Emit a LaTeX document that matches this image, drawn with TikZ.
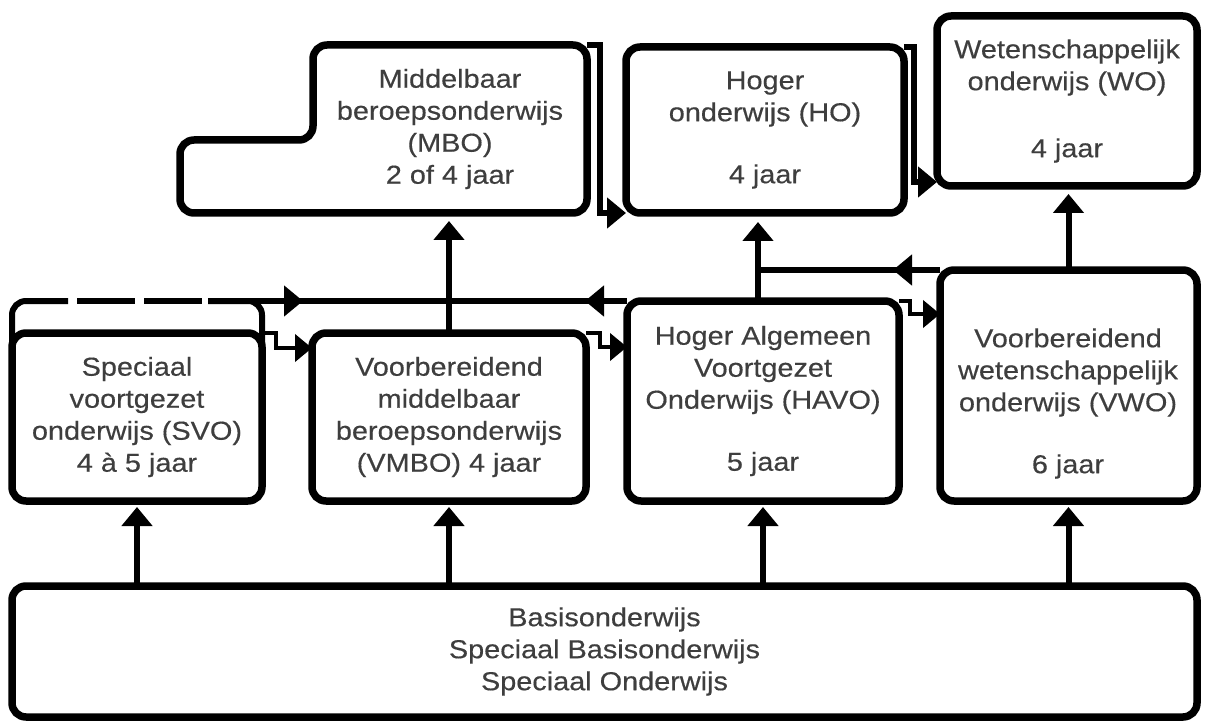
\documentclass[tikz,border=0pt]{standalone}
\usepackage{fontspec}
\setmainfont{Liberation Sans}[FakeStretch=1.11,FakeBold=0.4]
\usepackage{tikz}
\usetikzlibrary{arrows.meta,positioning,decorations.markings}
\definecolor{txtgray}{RGB}{62,62,62}

\begin{document}
\begin{tikzpicture}[x=1pt,y=-1pt,
	conn/.style={line width=6pt},
	arr/.style={line width=6pt,-{Triangle[length=19pt,width=30pt]}},
	steparr/.style={line width=4.5pt,-{Triangle[length=17pt,width=27pt]}}]
	\useasboundingbox (0,0) rectangle (1205,722);

	\begin{scope}[every node/.style={rectangle,draw,line width=7.5pt,rounded corners=14pt,inner sep=0pt,outer sep=0pt,align=center,text=txtgray,font=\fontsize{26}{32}\selectfont}]
		\node[minimum width=1185pt,minimum height=131pt] (Basis) at (604.5,651.5) {Basisonderwijs\\Speciaal Basisonderwijs\\Speciaal Onderwijs};
		\node[minimum width=250pt,minimum height=168pt] (SVO) at (137,417) {Speciaal\\voortgezet\\onderwijs (SVO)\\4 à 5 jaar};
		\node[minimum width=274pt,minimum height=168pt] (VMBO) at (449,417) {Voorbereidend\\middelbaar\\beroepsonderwijs\\(VMBO) 4 jaar};
		\node[minimum width=272pt,minimum height=200pt] (HAVO) at (763,401) {Hoger Algemeen\\Voortgezet\\Onderwijs (HAVO)\\[30pt]5 jaar};
		\node[minimum width=257pt,minimum height=231pt] (VWO) at (1068.5,385.5) {};
		\node[draw=none] (VWOtxt) at (1068,403.5) {Voorbereidend\\wetenschappelijk\\onderwijs (VWO)\\[30pt]6 jaar};
		\node[draw=none,minimum width=274pt,minimum height=168pt] (MBO) at (450,129) {Middelbaar\\beroepsonderwijs\\(MBO)\\2 of 4 jaar};
		\node[minimum width=278pt,minimum height=166pt] (HO) at (765,130) {Hoger\\onderwijs (HO)\\[30pt]4 jaar};
		\node[minimum width=260pt,minimum height=170pt] (WO) at (1067,101) {Wetenschappelijk\\onderwijs (WO)\\[35pt]4 jaar};
	\end{scope}

	% MBO outline
	\draw[line width=7.5pt,rounded corners=14pt] (MBO.south) -- (MBO.south east) -- (MBO.north east) -- (MBO.north west) -- (MBO.west |- 0,140) -- (180,140) -- (180,213) -- cycle;

	\coordinate (J) at (758,270);
	\coordinate (D1) at (68,301);
	\coordinate (D2) at (208,301);

	\begin{scope}
	\draw[arr,shorten >=6pt] (Basis.north -| SVO.south) -- (SVO.south);
	\draw[arr,shorten >=6pt] (Basis.north -| VMBO.south) -- (VMBO.south);
	\draw[arr,shorten >=6pt] (Basis.north -| HAVO.south) -- (HAVO.south);
	\draw[arr,shorten >=6pt] (Basis.north -| VWO.south) -- (VWO.south);
	\draw[arr,shorten >=8pt] (VMBO.north) -- (VMBO.north |- MBO.south);
	\draw[arr,shorten >=9pt] (HAVO.north -| J) -- (HO.south -| J);
	\draw[arr,shorten >=8pt] (VWO.north) -- (WO.south -| VWO.north);
	\draw[conn,postaction={decorate},decoration={markings,mark=at position 47pt with {\arrow{Triangle[length=19pt,width=30pt]}}}] (VWO.north west) -- (J);

	% dashed top over SVO
	\draw[conn,rounded corners=14pt] (SVO.west) |- (D1);
	\draw[conn,dash pattern=on 58pt off 9pt,dash phase=58pt] (D1) -- (D2);
	\draw[conn,rounded corners=14pt] (D2) -| (SVO.east);
	\draw[conn,postaction={decorate},decoration={markings,
		mark=at position 95pt with {\arrow{Triangle[length=19pt,width=30pt]}},
		mark=at position 377pt with {\arrowreversed{Triangle[length=19pt,width=30pt]}}}] (D2) -- (HAVO.north west);

	% step arrows
	\draw[steparr] (SVO.north east) -- ++(14,0) |- ([yshift=-15pt]VMBO.north west);
	\draw[steparr] (VMBO.north east) -- ++(14,0) |- ([yshift=-46pt]HAVO.north west);
	\draw[steparr] (HAVO.north east) -- ++(11,0) |- ([yshift=-44pt]VWO.north west);
	\draw[arr] (MBO.north east) -- ++(13,0) |- (HO.south west);
	\draw[arr] (HO.north east) -- ++(10,0) |- ([yshift=4pt]WO.south west);
	\end{scope}
\end{tikzpicture}
\end{document}
